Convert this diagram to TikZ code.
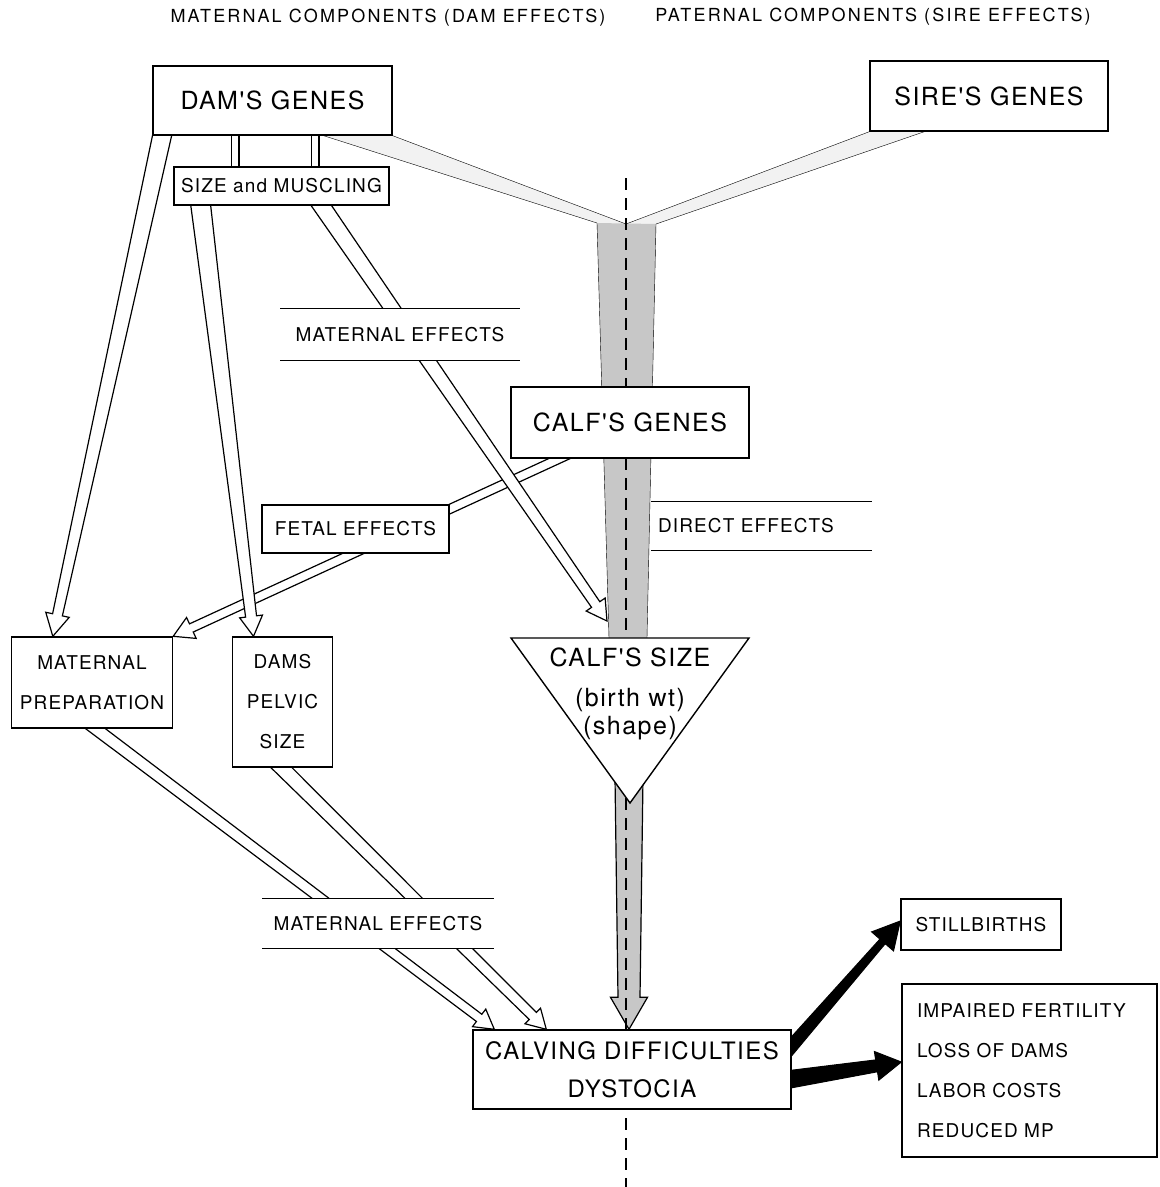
\documentclass[tikz,border=0pt]{standalone}
\usepackage{fontspec}
\usetikzlibrary{calc}
\newfontfamily\lblfont{TeX Gyre Heros}[LetterSpace=6]
\newfontfamily\hdrfont{TeX Gyre Heros}[LetterSpace=12]
\pgfdeclarelayer{bg}
\pgfsetlayers{bg,main}

\tikzset{every picture/.style={line width=1.2pt}}
\tikzset{
  box/.style={draw, fill=white, line width=1.4pt, inner sep=0pt, align=center, font=\lblfont\fontsize{19}{22}\selectfont},
  big/.style={font=\lblfont\fontsize{25}{29}\selectfont},
  labelbar/.style={fill=white, inner sep=0pt, align=center, font=\lblfont\fontsize{19}{22}\selectfont},
  bar/.style={line width=1.4pt},
  hdr/.style={inner sep=0pt, font=\hdrfont\fontsize{18}{20}\selectfont},
  hollow/.style={fill=white, line width=1.2pt},
  stipple/.style={fill=black!22, line width=1.2pt},
  blackarrow/.style={fill=black, line width=1pt},
  stem/.style={double, double distance=6pt, line width=1.2pt},
  divider/.style={line width=1.2pt, dash pattern=on 12pt off 8pt},
}

% band arrow: style, from, to, start half width, end half width, head half width, head length
\newcommand{\bandarrow}[7]{%
  \coordinate (ba) at (#2);
  \coordinate (bb) at (#3);
  \coordinate (bc) at ($(bb)!#7!(ba)$);
  \draw[#1] ($(ba)!#4!90:(bb)$) -- ($(bc)!#5!90:(bb)$) -- ($(bc)!#6!90:(bb)$) -- (bb)
    -- ($(bc)!#6!-90:(bb)$) -- ($(bc)!#5!-90:(bb)$) -- ($(ba)!#4!-90:(bb)$);
}

\begin{document}
\begin{tikzpicture}[x=1pt,y=1pt,yscale=-1,xscale=1]
\useasboundingbox (0,0) rectangle (1160,1187);

% Text Node
\node[hdr] (hmat) at (388,18) {MATERNAL COMPONENTS (DAM EFFECTS)};
% Text Node
\node[hdr] (hpat) at (873,17) {PATERNAL COMPONENTS (SIRE EFFECTS)};

%Shape: Rectangle
\node[box, big, minimum width=239pt, minimum height=69pt] (dam) at (272.5,100.5) {DAM'S GENES};
%Shape: Rectangle
\node[box, big, minimum width=238pt, minimum height=70pt] (sire) at (989,96) {SIRE'S GENES};
%Shape: Rectangle
\node[box, minimum width=215pt, minimum height=38pt] (size) at (281.5,186) {SIZE and MUSCLING};
%Shape: Rectangle
\node[box, big, minimum width=238pt, minimum height=71pt] (calf) at (630,422.5) {CALF'S GENES};
%Shape: Rectangle
\node[box, minimum width=187pt, minimum height=48pt] (fetal) at (355.5,529) {FETAL EFFECTS};
%Shape: Rectangle
\node[box, minimum width=161pt, minimum height=91pt, font=\lblfont\fontsize{19}{40}\selectfont] (mprep) at (92,682.5) {MATERNAL\\PREPARATION};
%Shape: Rectangle
\node[box, minimum width=100pt, minimum height=130pt, font=\lblfont\fontsize{19}{40}\selectfont] (pelvic) at (282.5,702) {DAMS\\PELVIC\\SIZE};
%Shape: Rectangle
\node[box, minimum width=318pt, minimum height=79pt, font=\lblfont\fontsize{24}{38}\selectfont] (calving) at (632,1069.5) {CALVING DIFFICULTIES\\DYSTOCIA};
%Shape: Rectangle
\node[box, minimum width=160pt, minimum height=51pt] (still) at (981,924.5) {STILLBIRTHS};
%Shape: Rectangle
\node[box, align=left, text width=225pt, inner xsep=15pt, minimum height=173pt, font=\lblfont\fontsize{19}{40}\selectfont] (losses) at (1029.5,1070.5) {IMPAIRED FERTILITY\\LOSS OF DAMS\\LABOR COSTS\\REDUCED MP};

% open label bars
\node[labelbar, minimum width=238pt, minimum height=51pt] (meup) at (400,334.5) {MATERNAL EFFECTS};
\draw[bar] (meup.north west) -- (meup.north east);
\draw[bar] (meup.south west) -- (meup.south east);
\node[labelbar, minimum width=230pt, minimum height=49pt] (melow) at (378,923.5) {MATERNAL EFFECTS};
\draw[bar] (melow.north west) -- (melow.north east);
\draw[bar] (melow.south west) -- (melow.south east);
\node[labelbar, align=left, text width=207pt, inner xsep=6pt, minimum height=48pt] (direct) at (761.5,526) {DIRECT EFFECTS};
\draw[bar] (direct.north west) -- (direct.north east);
\draw[bar] (direct.south west) -- (direct.south east);

%Shape: Triangle
\coordinate (csTL) at (511,638);
\coordinate (csTR) at (749,638);
\coordinate (csB) at (630,803);
\draw[fill=white, line width=1.4pt] (csTL) -- (csTR) -- (csB) -- cycle;
% Text Node
\node[inner sep=0pt, align=center, font=\lblfont\fontsize{25}{28}\selectfont] (csize) at (630,693.5) {CALF'S SIZE\\[12pt](birth wt)\\(shape)};

% trunk of the Y band
\coordinate (apex) at (626,224);
\coordinate (trL) at (597,223);
\coordinate (trR) at (656,224);
\coordinate (trBL) at (609,638);
\coordinate (trBR) at (647,638);
\coordinate (mtip) at (607,621);
\coordinate (axtop) at (626,178);
\coordinate (axbot) at (626,1187);

\begin{pgfonlayer}{bg}
%Shape: Y band
\fill[black!5] (dam.south east) -- (apex) -- (sire.south west) -- ($(sire.south west)+(55,0)$) -- (trR) -- (trBR) -- (trBL) -- (trL) -- ($(dam.south east)+(-69,0)$) -- cycle;
\fill[black!22] (trL) -- (trR) -- (trBR) -- (trBL) -- cycle;
\draw (dam.south east) -- (apex) -- (sire.south west);
\draw ($(sire.south west)+(55,0)$) -- (trR) -- (trBR);
\draw ($(dam.south east)+(-69,0)$) -- (trL) -- (trBL);
%Shape: lower trunk
\bandarrow{stipple}{$(csB)+(-1,-25)$}{$(calving.north)+(-3,0)$}{14pt}{11pt}{18.5pt}{32pt}
%Straight Lines
\draw[divider] (axtop) -- (axbot);

%Straight Lines
\draw[stem] ($(dam.south west)+(83,0)$) -- ($(size.north west)+(62,0)$);
\draw[stem] ($(dam.south west)+(163,0)$) -- ($(size.north west)+(142,0)$);

%Hollow arrows
\bandarrow{hollow}{$(calf.south)+(-60,-5)$}{mprep.north east}{4.5pt}{4.5pt}{11.5pt}{20pt}
\bandarrow{hollow}{$(dam.south west)+(13,-15)$}{$(mprep.north west)+(42,0)$}{9.5pt}{5pt}{12pt}{22pt}
\bandarrow{hollow}{$(size.south west)+(26,-12)$}{$(pelvic.north)+(-29,0)$}{10pt}{5.5pt}{11.5pt}{20pt}
\bandarrow{hollow}{$(size.south west)+(142,-9)$}{mtip}{8.5pt}{5pt}{11.5pt}{20pt}
\bandarrow{hollow}{$(mprep.south)+(-7,-8)$}{$(calving.north west)+(22,0)$}{6pt}{4.5pt}{11pt}{19pt}
\bandarrow{hollow}{$(pelvic.south)+(-10,-9)$}{$(calving.north west)+(74,0)$}{7.5pt}{5pt}{11pt}{19pt}

%Black arrows
\bandarrow{blackarrow}{$(calving.east)+(-7,-15.5)$}{$(still.west)+(0,-3.5)$}{6.5pt}{3.5pt}{14.5pt}{27pt}
\bandarrow{blackarrow}{$(calving.east)+(-10,11)$}{$(losses.west)+(0,-8.5)$}{9pt}{6pt}{14.5pt}{25pt}
\end{pgfonlayer}

\end{tikzpicture}
\end{document}
